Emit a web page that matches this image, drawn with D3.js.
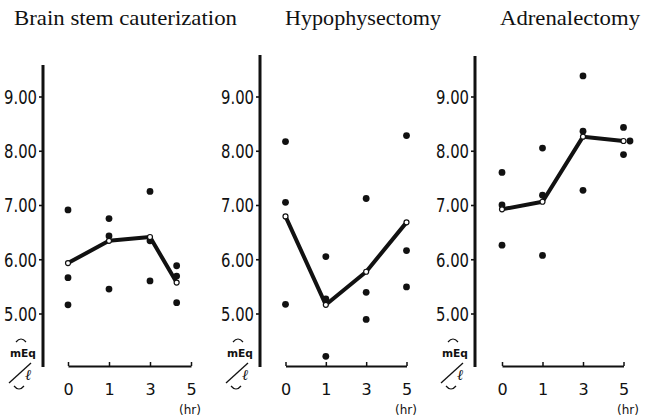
<!DOCTYPE html>
<html>
<head>
<meta charset="utf-8">
<script src="https://cdn.jsdelivr.net/npm/d3@7"></script>
<style>
  html, body { margin: 0; padding: 0; background: #fff; }
  svg { display: block; }
</style>
</head>
<body>
<svg id="chart" width="655" height="419"></svg>
<script>
// ---------- data ----------
const panelTitles = ["Brain stem cauterization", "Hypophysectomy", "Adrenalectomy"];
const categories = ["0", "1", "3", "5"];          // x tick labels (hr)
const categorySlots = [0, 1, 2, 3];                // evenly spaced positions of the ticks
const yTicks = [5, 6, 7, 8, 9];
const yTickLabels = ["5.00", "6.00", "7.00", "8.00", "9.00"];
const xUnit = "(hr)";
const yUnit = "mEq";
const yUnitDenom = "ℓ";

// Brain stem cauterization
const brainSlot = [0, 0, 0, 1, 1, 1, 2, 2, 2, 2.65, 2.65, 2.65];
const brainValue = [6.91, 5.66, 5.16, 6.75, 6.43, 5.45, 7.25, 6.34, 5.60, 5.88, 5.69, 5.20];
const brainMeanSlot = [0, 1, 2, 2.65];
const brainMean = [5.93, 6.34, 6.41, 5.57];

// Hypophysectomy
const hypoSlot = [0, 0, 0, 1, 1, 1, 2, 2, 2, 3, 3, 3];
const hypoValue = [8.17, 7.05, 5.17, 6.05, 5.27, 4.21, 7.12, 5.39, 4.89, 8.28, 6.16, 5.49];
const hypoMeanSlot = [0, 1, 2, 3];
const hypoMean = [6.79, 5.16, 5.77, 6.68];

// Adrenalectomy
const adrenSlot = [0, 0, 0, 1, 1, 1, 2, 2, 2, 3, 3.16, 3];
const adrenValue = [7.60, 7.00, 6.26, 8.05, 7.18, 6.07, 9.38, 8.36, 7.27, 8.43, 8.18, 7.93];
const adrenMeanSlot = [0, 1, 2, 3];
const adrenMean = [6.92, 7.06, 8.26, 8.18];

// ---------- layout (positions only) ----------
const panels = [
  { title: panelTitles[0], slot: brainSlot, value: brainValue, mSlot: brainMeanSlot, mean: brainMean,
    axisX: 43, x0: 68, x1: 191, top: 65, titleX: 14, titleW: 223, hrX: 190 },
  { title: panelTitles[1], slot: hypoSlot, value: hypoValue, mSlot: hypoMeanSlot, mean: hypoMean,
    axisX: 260, x0: 285.5, x1: 406.5, top: 55, titleX: 285, titleW: 156, hrX: 406 },
  { title: panelTitles[2], slot: adrenSlot, value: adrenValue, mSlot: adrenMeanSlot, mean: adrenMean,
    axisX: 475, x0: 502, x1: 623.5, top: 56, titleX: 500, titleW: 140, hrX: 628 }
];

const svg = d3.select("#chart");
const y = d3.scaleLinear().domain([5, 9]).range([313.5, 96.5]);
const baseY = 366;
const axisBottomY = 367;
const labelFont = "'DejaVu Sans Condensed', 'Liberation Sans Narrow', 'DejaVu Sans', sans-serif";

panels.forEach(p => {
  const g = svg.append("g");
  const x = d3.scaleLinear().domain([0, 3]).range([p.x0, p.x1]);

  // title
  g.append("text")
    .attr("x", p.titleX).attr("y", 25)
    .attr("font-family", "'Liberation Serif', 'DejaVu Serif', serif")
    .attr("font-size", 21)
    .attr("textLength", p.titleW)
    .attr("lengthAdjust", "spacingAndGlyphs")
    .attr("fill", "#111")
    .text(p.title);

  // y axis
  const yAxis = d3.axisLeft(y)
    .tickValues(yTicks)
    .tickFormat((d, i) => yTickLabels[i])
    .tickSizeInner(4).tickSizeOuter(0).tickPadding(2);
  const ya = g.append("g").attr("transform", `translate(${p.axisX},0)`).call(yAxis);
  ya.select(".domain").remove();
  ya.selectAll(".tick line").attr("stroke", "#111").attr("stroke-width", 1.6);
  ya.selectAll(".tick text")
    .attr("font-family", labelFont)
    .attr("font-size", 19)
    .attr("fill", "#111")
    .attr("textLength", 33)
    .attr("lengthAdjust", "spacingAndGlyphs")
    .attr("dy", "0.36em");
  g.append("line")
    .attr("x1", p.axisX).attr("x2", p.axisX)
    .attr("y1", p.top).attr("y2", axisBottomY)
    .attr("stroke", "#111").attr("stroke-width", 3);

  // x axis
  const xAxis = d3.axisBottom(x)
    .tickValues(categorySlots)
    .tickFormat((d, i) => categories[i])
    .tickSizeInner(-4).tickSizeOuter(0).tickPadding(18);
  const xa = g.append("g").attr("transform", `translate(0,${baseY})`).call(xAxis);
  xa.select(".domain").attr("stroke", "#111").attr("stroke-width", 2);
  xa.selectAll(".tick line").attr("stroke", "#111").attr("stroke-width", 1.5);
  xa.selectAll(".tick text")
    .attr("font-family", "'DejaVu Sans', sans-serif")
    .attr("font-size", 16)
    .attr("fill", "#111");

  // unit (hr)
  g.append("text")
    .attr("x", p.hrX).attr("y", 414)
    .attr("text-anchor", "middle")
    .attr("font-family", "'DejaVu Sans', sans-serif")
    .attr("font-size", 12)
    .attr("fill", "#111")
    .text(xUnit);

  // unit mEq / ℓ
  const ux = p.axisX;
  g.append("path")
    .attr("d", `M${ux - 27},${342} Q${ux - 22},${336} ${ux - 17},${342}`)
    .attr("fill", "none").attr("stroke", "#111").attr("stroke-width", 1.2);
  g.append("text")
    .attr("x", ux - 33).attr("y", 357)
    .attr("font-family", "'DejaVu Sans', sans-serif")
    .attr("font-size", 11).attr("font-weight", "bold")
    .attr("textLength", 26).attr("lengthAdjust", "spacingAndGlyphs")
    .attr("fill", "#111")
    .text(yUnit);
  g.append("line")
    .attr("x1", ux - 34).attr("y1", 383).attr("x2", ux - 12).attr("y2", 363)
    .attr("stroke", "#111").attr("stroke-width", 1.3);
  g.append("text")
    .attr("x", ux - 18).attr("y", 380)
    .attr("font-family", "'DejaVu Serif', serif")
    .attr("font-style", "italic")
    .attr("font-size", 15)
    .attr("fill", "#111")
    .text(yUnitDenom);
  g.append("path")
    .attr("d", `M${ux - 29},${386} Q${ux - 24},${392} ${ux - 19},${386}`)
    .attr("fill", "none").attr("stroke", "#111").attr("stroke-width", 1.2);

  // individual points
  g.selectAll("circle.pt")
    .data(p.value.map((v, i) => ({ s: p.slot[i], v })))
    .join("circle")
    .attr("class", "pt")
    .attr("cx", d => x(d.s)).attr("cy", d => y(d.v))
    .attr("r", 3.4).attr("fill", "#111");

  // mean line
  const meanData = p.mean.map((v, i) => ({ s: p.mSlot[i], v }));
  g.append("path")
    .datum(meanData)
    .attr("d", d3.line().x(d => x(d.s)).y(d => y(d.v)))
    .attr("fill", "none").attr("stroke", "#111")
    .attr("stroke-width", 4).attr("stroke-linejoin", "round");
  g.selectAll("circle.mean")
    .data(meanData)
    .join("circle")
    .attr("class", "mean")
    .attr("cx", d => x(d.s)).attr("cy", d => y(d.v))
    .attr("r", 2.5).attr("fill", "#fff")
    .attr("stroke", "#111").attr("stroke-width", 1.2);
});
</script>
</body>
</html>
